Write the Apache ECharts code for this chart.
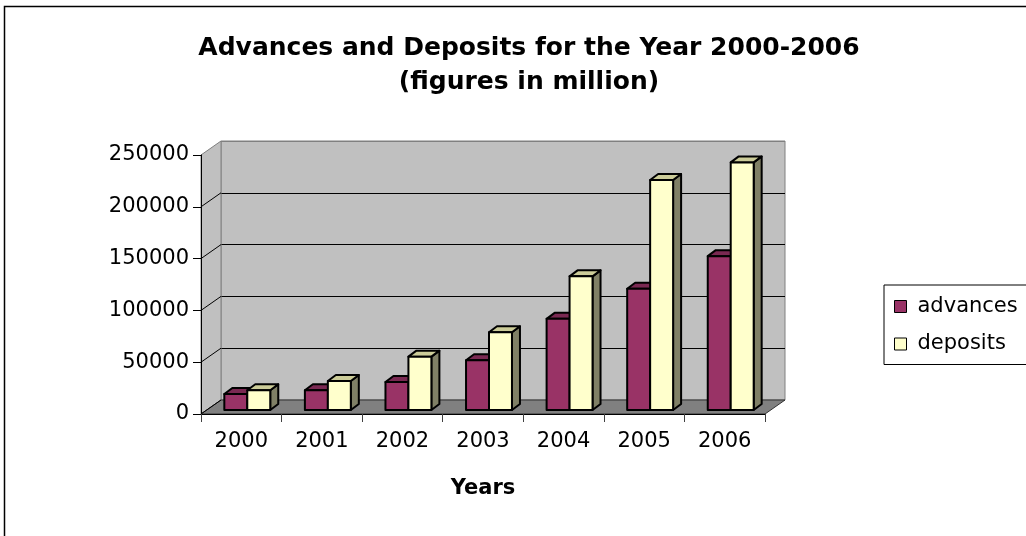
<!DOCTYPE html>
<html>
<head>
<meta charset="utf-8">
<script src="https://cdn.jsdelivr.net/npm/echarts@6/dist/echarts.min.js"></script>
<style>
html,body{margin:0;padding:0;background:#fff;}
#chart{width:1026px;height:536px;}
</style>
</head>
<body>
<div id="chart"></div>
<script>
// ---- data ----
const categories = ['2000', '2001', '2002', '2003', '2004', '2005', '2006'];
const advances = [15500, 19000, 27000, 48000, 88000, 117000, 148500];
const deposits = [19000, 28000, 51500, 75000, 129000, 222000, 239000];
const yMin = 0;
const yMax = 250000;
const yInterval = 50000;
const titleText = 'Advances and Deposits for the Year 2000-2006\n(figures in million)';
const xName = 'Years';

// ---- style constants ----
const FONT = 'DejaVu Sans';
const DX = 20, DY = -14;       // wall depth offset
const BOX = 6, BOY = -4;       // bar front plane offset
const BDX = 8, BDY = -6;       // bar depth

const chart = echarts.init(document.getElementById('chart'), null, {renderer: 'canvas'});

function wallRender(params, api) {
  const band = api.size([1, 0])[0];
  const n = categories.length;
  const x0 = api.coord([0, yMin])[0] - band / 2;
  const x1 = api.coord([n - 1, yMin])[0] + band / 2;
  const y0 = api.coord([0, yMin])[1];
  const yT = api.coord([0, yMax])[1];
  const children = [];
  children.push({
    type: 'polygon',
    shape: {points: [[x0, y0], [x0 + DX, y0 + DY], [x0 + DX, yT + DY], [x0, yT]]},
    style: {fill: '#c0c0c0', stroke: '#808080', lineWidth: 1}
  });
  children.push({
    type: 'polygon',
    shape: {points: [[x0, y0], [x1, y0], [x1 + DX, y0 + DY], [x0 + DX, y0 + DY]]},
    style: {fill: '#808080', stroke: '#333', lineWidth: 1}
  });
  for (let v = yMin; v < yMax; v += yInterval) {
    const y = api.coord([0, v])[1];
    children.push({
      type: 'line',
      shape: {x1: x0, y1: y, x2: x0 + DX, y2: y + DY},
      style: {stroke: '#000', lineWidth: 1}
    });
  }
  return {type: 'group', children: children};
}

function barRender(side, front, top, sideCol) {
  return function (params, api) {
    const i = api.value(0), v = api.value(1);
    const band = api.size([1, 0])[0];
    const w = band * 0.285;
    const c = api.coord([i, v]);
    const b = api.coord([i, 0]);
    const xL = side < 0 ? c[0] + BOX - w : c[0] + BOX;
    const xR = xL + w;
    const yT = c[1] + BOY, yB = b[1] + BOY;
    const st = {stroke: '#000', lineWidth: 2, lineJoin: 'round'};
    return {
      type: 'group',
      children: [
        {type: 'polygon', shape: {points: [[xR, yB], [xR + BDX, yB + BDY], [xR + BDX, yT + BDY], [xR, yT]]},
          style: Object.assign({fill: sideCol}, st)},
        {type: 'polygon', shape: {points: [[xL, yT], [xL + BDX, yT + BDY], [xR + BDX, yT + BDY], [xR, yT]]},
          style: Object.assign({fill: top}, st)},
        {type: 'rect', shape: {x: xL, y: yT, width: w, height: yB - yT},
          style: Object.assign({fill: front}, st)}
      ]
    };
  };
}

const option = {
  backgroundColor: '#ffffff',
  animation: false,
  title: {
    text: titleText,
    left: 524,
    top: 26,
    textAlign: 'center',
    textStyle: {fontFamily: FONT, fontSize: 25, fontWeight: 'bold', color: '#000', lineHeight: 34}
  },
  legend: {
    data: ['advances', 'deposits'],
    orient: 'vertical',
    left: 884,
    top: 285,
    padding: [11, 30, 10, 10],
    itemGap: 16.5,
    itemWidth: 12,
    itemHeight: 12,
    icon: 'rect',
    borderColor: '#000',
    borderWidth: 1,
    itemStyle: {borderColor: '#000', borderWidth: 1},
    textStyle: {fontFamily: FONT, fontSize: 21, color: '#000', padding: [0, 0, 0, 6]}
  },
  grid: [
    {left: 201, top: 155, width: 564, height: 259, containLabel: false},
    {left: 201 + DX, top: 155 + DY, width: 564, height: 259, show: true,
      backgroundColor: '#c0c0c0', borderColor: '#808080', borderWidth: 1, z: 0}
  ],
  xAxis: [
    {
      type: 'category', gridIndex: 0, data: categories,
      name: xName, nameLocation: 'middle', nameGap: 64,
      nameTextStyle: {fontFamily: FONT, fontSize: 21, fontWeight: 'bold', color: '#000'},
      axisLine: {show: true, lineStyle: {color: '#000', width: 1}},
      axisTick: {show: true, length: 8, lineStyle: {color: '#404040'}},
      axisLabel: {fontFamily: FONT, fontSize: 21, color: '#000', margin: 17},
      splitLine: {show: false},
      z: 10
    },
    {type: 'category', gridIndex: 1, data: categories, show: false}
  ],
  yAxis: [
    {
      type: 'value', gridIndex: 0, min: yMin, max: yMax, interval: yInterval,
      axisLine: {show: true, lineStyle: {color: '#000', width: 1}},
      axisTick: {show: true, length: 8, lineStyle: {color: '#000'}},
      axisLabel: {fontFamily: FONT, fontSize: 21, color: '#000', margin: 12,
        formatter: function (v) { return String(v); }},
      splitLine: {show: false},
      z: 10
    },
    {
      type: 'value', gridIndex: 1, min: yMin, max: yMax, interval: yInterval,
      axisLine: {show: false}, axisTick: {show: false}, axisLabel: {show: false},
      splitLine: {show: true, lineStyle: {color: ['#808080', '#000', '#000', '#000', '#000', '#808080'], width: 1}}
    }
  ],
  series: [
    {
      name: 'walls', type: 'custom', xAxisIndex: 0, yAxisIndex: 0,
      data: [[0, 0]], renderItem: wallRender, z: 1, silent: true
    },
    {
      name: 'advances', type: 'custom', xAxisIndex: 0, yAxisIndex: 0,
      data: advances.map((v, i) => [i, v]), encode: {x: 0, y: 1},
      itemStyle: {color: '#993366'},
      renderItem: barRender(-1, '#993366', '#7a2952', '#4d1a33'), z: 3
    },
    {
      name: 'deposits', type: 'custom', xAxisIndex: 0, yAxisIndex: 0,
      data: deposits.map((v, i) => [i, v]), encode: {x: 0, y: 1},
      itemStyle: {color: '#ffffcc'},
      renderItem: barRender(1, '#ffffcc', '#cccc99', '#808066'), z: 4
    }
  ],
  graphic: [
    {type: 'rect', shape: {x: 4.5, y: 6.5, width: 1100, height: 600}, style: {fill: 'none', stroke: '#000', lineWidth: 1.5}, z: 100, silent: true}
  ]
};
chart.setOption(option);
</script>
</body>
</html>
